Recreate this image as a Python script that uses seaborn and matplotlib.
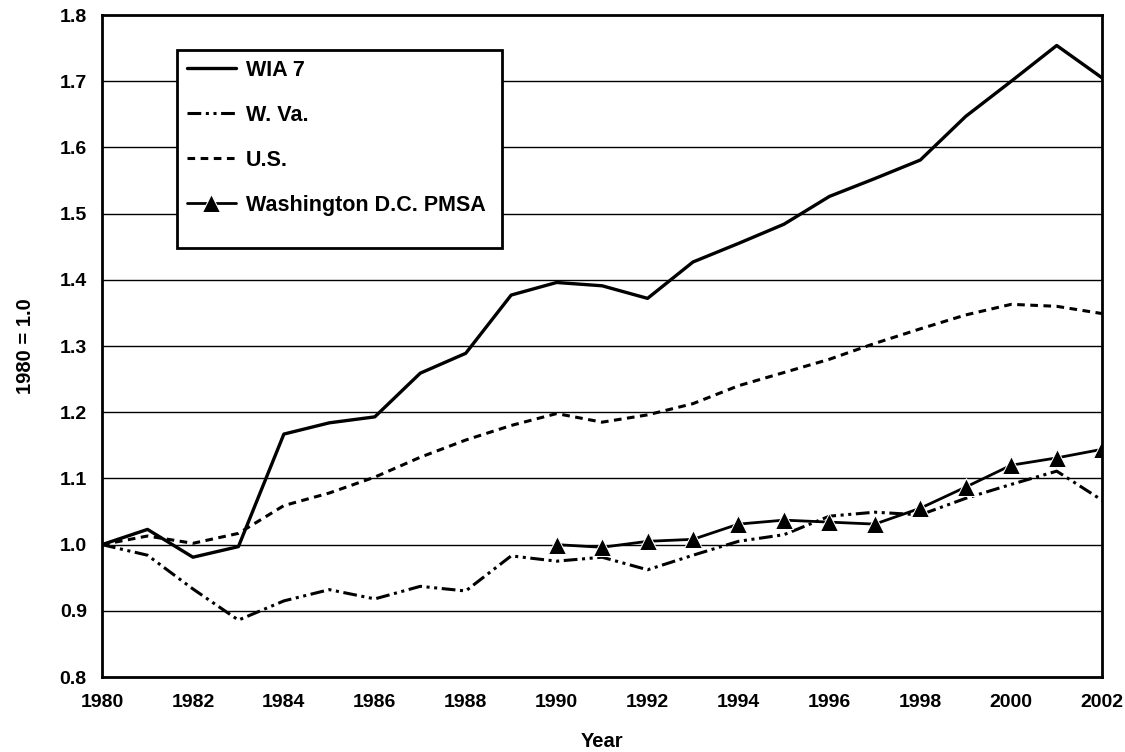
import pandas as pd
import seaborn as sns
import matplotlib.pyplot as plt
from matplotlib.patches import Rectangle

years = list(range(1980, 2003))

wia7 = [1.000, 1.023, 0.981, 0.997, 1.167, 1.184, 1.193, 1.259, 1.289, 1.377,
        1.396, 1.391, 1.372, 1.427, 1.455, 1.484, 1.526, 1.553, 1.581, 1.647,
        1.700, 1.754, 1.705]
wva = [1.000, 0.984, 0.933, 0.886, 0.915, 0.932, 0.918, 0.937, 0.930, 0.983,
       0.975, 0.981, 0.962, 0.984, 1.005, 1.015, 1.043, 1.049, 1.045, 1.070,
       1.091, 1.111, 1.067]
us = [1.000, 1.013, 1.002, 1.017, 1.059, 1.078, 1.102, 1.132, 1.158, 1.180,
      1.198, 1.185, 1.196, 1.213, 1.240, 1.260, 1.280, 1.304, 1.326, 1.347,
      1.363, 1.360, 1.349]
dc_years = list(range(1990, 2003))
dc = [1.000, 0.996, 1.005, 1.008, 1.031, 1.037, 1.034, 1.031, 1.055, 1.087,
      1.120, 1.131, 1.144]

df = pd.DataFrame({"year": years, "WIA 7": wia7, "W. Va.": wva, "U.S.": us})
dc_df = pd.DataFrame({"year": dc_years, "Washington D.C. PMSA": dc})

sns.set_theme(style="white")
plt.rcParams["font.family"] = ["Liberation Sans", "DejaVu Sans"]
plt.rcParams["font.weight"] = "bold"
plt.rcParams["text.color"] = "black"
plt.rcParams["xtick.color"] = "black"
plt.rcParams["ytick.color"] = "black"
plt.rcParams["axes.labelcolor"] = "black"

fig = plt.figure(figsize=(11.25, 7.52), dpi=100)
ax = fig.add_axes([0.0907, 0.0997, 0.889, 0.8803])

# horizontal gridlines behind the series
for v in [0.9, 1.0, 1.1, 1.2, 1.3, 1.4, 1.5, 1.6, 1.7]:
    ax.axhline(v, color="black", lw=1.0, zorder=0)

sns.lineplot(data=df, x="year", y="WIA 7", ax=ax, color="black", lw=2.4,
             label="WIA 7")
sns.lineplot(data=df, x="year", y="W. Va.", ax=ax, color="black", lw=2.2,
             linestyle=(0, (4.5, 1.5, 1, 1.5, 1, 1.5)), label="W. Va.")
sns.lineplot(data=df, x="year", y="U.S.", ax=ax, color="black", lw=2.2,
             linestyle=(0, (2.5, 1.8)), label="U.S.")
sns.lineplot(data=dc_df, x="year", y="Washington D.C. PMSA", ax=ax,
             color="black", lw=2.0, marker="^", markersize=13,
             label="Washington D.C. PMSA")

ax.set_xlim(1980, 2002)
ax.set_ylim(0.8, 1.8)
ax.set_xticks(range(1980, 2003, 2))
ax.set_yticks([0.8, 0.9, 1.0, 1.1, 1.2, 1.3, 1.4, 1.5, 1.6, 1.7, 1.8])
ax.set_yticklabels([f"{v:.1f}" for v in ax.get_yticks()])
ax.tick_params(axis="x", direction="in", length=9, width=1, color="black",
               labelsize=14, pad=12)
ax.tick_params(axis="y", length=0, labelsize=14, pad=11)
for lab in ax.get_xticklabels() + ax.get_yticklabels():
    lab.set_fontweight("bold")

ax.set_xlabel("Year", fontsize=14.5, fontweight="bold", labelpad=15)
ax.set_ylabel("1980 = 1.0", fontsize=14.5, fontweight="bold", labelpad=18)

for s in ax.spines.values():
    s.set_color("black")
    s.set_linewidth(2)

# legend box drawn separately: the original has extra room below the entries
ax.add_patch(Rectangle((0.075, 0.648), 0.325, 0.299, transform=ax.transAxes,
                       facecolor="white", edgecolor="black", lw=2, zorder=4))
leg = ax.legend(loc="upper left", bbox_to_anchor=(0.077, 0.944),
                borderaxespad=0, frameon=False,
                handlelength=2.3, handletextpad=0.45, labelspacing=1.12,
                borderpad=0.35, prop={"weight": "bold", "size": 15.5})
leg.set_zorder(5)

fig.savefig("out.png", dpi=100, facecolor="white")
